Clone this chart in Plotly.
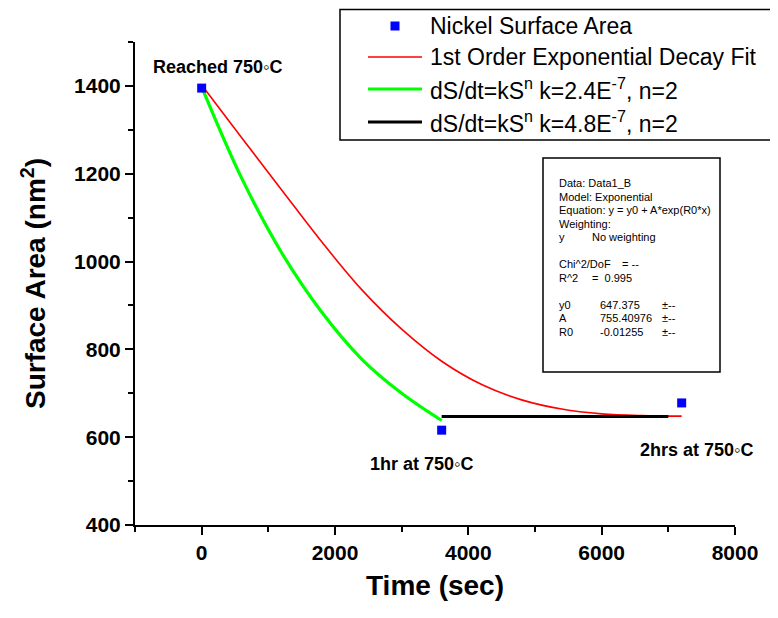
import plotly.graph_objects as go

# ---------------- data ----------------
time_pts = [0, 3600, 7200]
area_pts = [1395, 616, 678]

fit_t = [0, 600, 1200, 1800, 2400, 3000, 3600, 4200, 4800, 5400, 6000, 6600, 7200]
fit_s = [1402, 1282, 1163, 1045, 936, 846, 773, 720, 685, 664, 653, 649, 648]

k24_t = [0, 600, 1200, 1800, 2400, 3000, 3600]
k24_s = [1398, 1190, 1020, 885, 778, 700, 638]

k48_t = [3600, 7000]
k48_s = [647, 647]

legend_labels = [
    "Nickel Surface Area",
    "1st Order Exponential Decay Fit",
    "dS/dt=kS<sup>n</sup> k=2.4E<sup>-7</sup>, n=2",
    "dS/dt=kS<sup>n</sup> k=4.8E<sup>-7</sup>, n=2",
]

# (text, screen-x) pieces per row of the fit-report box
stats_rows = [
    [("Data: Data1_B", 557)],
    [("Model: Exponential", 557)],
    [("Equation: y = y0 + A*exp(R0*x)", 557)],
    [("Weighting:", 557)],
    [("y", 557), ("No weighting", 590)],
    None,
    [("Chi^2/DoF", 557), ("= --", 620)],
    [("R^2", 557), ("=  0.995", 590)],
    None,
    [("y0", 557), ("647.375", 598), ("\u00b1--", 660)],
    [("A", 557), ("755.40976", 598), ("\u00b1--", 660)],
    [("R0", 557), ("-0.01255", 598), ("\u00b1--", 660)],
]

point_labels = ["Reached 750\u25e6C", "1hr at 750\u25e6C", "2hrs at 750\u25e6C"]

# ---------------- layout geometry ----------------
OFF = 8  # page body margin
W, H = 778 - OFF, 618 - OFF
L, T = 135 - OFF, 42 - OFF
R = W - (735 - OFF)
B = H - (525 - OFF)
PW, PH = W - L - R, H - T - B


def px(sx):
    return (sx - OFF - L) / PW


def py(sy):
    return (H - B - (sy - OFF)) / PH


FONT = "Arial, Liberation Sans, sans-serif"
colors = ["#0000FF", "#FF0000", "#00FF00", "#000000"]

fig = go.Figure()
fig.add_trace(go.Scatter(x=fit_t, y=fit_s, mode="lines",
                         line=dict(color=colors[1], width=1.6, shape="spline", smoothing=1.0),
                         showlegend=False))
fig.add_trace(go.Scatter(x=k24_t, y=k24_s, mode="lines",
                         line=dict(color=colors[2], width=3.2, shape="spline", smoothing=1.0),
                         showlegend=False))
fig.add_trace(go.Scatter(x=k48_t, y=k48_s, mode="lines",
                         line=dict(color=colors[3], width=3), showlegend=False))
fig.add_trace(go.Scatter(x=time_pts, y=area_pts, mode="markers",
                         marker=dict(symbol="square", size=9, color=colors[0]),
                         showlegend=False))

shapes = []
annotations = []

# legend box (drawn manually to match the original placement)
shapes.append(dict(type="rect", xref="paper", yref="paper",
                   x0=px(340), x1=px(800), y0=py(140), y1=py(9.5),
                   line=dict(color="#000000", width=1.5), fillcolor="rgba(0,0,0,0)"))
rows_y = [26, 57, 89, 122]
for i, lab in enumerate(legend_labels):
    yy = py(rows_y[i])
    if i == 0:
        shapes.append(dict(type="rect", xref="paper", yref="paper",
                           xsizemode="pixel", ysizemode="pixel",
                           xanchor=px(395), yanchor=yy,
                           x0=-4.5, x1=4.5, y0=-4.5, y1=4.5,
                           line=dict(width=0), fillcolor=colors[0]))
    else:
        shapes.append(dict(type="line", xref="paper", yref="paper",
                           x0=px(368), x1=px(422), y0=yy, y1=yy,
                           line=dict(color=colors[i], width=1.6 if i == 1 else 3)))
    annotations.append(dict(xref="paper", yref="paper", x=px(428), y=yy,
                            xanchor="left", yanchor="middle", showarrow=False,
                            text=lab, font=dict(family=FONT, size=23, color="#000000")))

# fit-report box
shapes.append(dict(type="rect", xref="paper", yref="paper",
                   x0=px(543), x1=px(720), y0=py(372), y1=py(158),
                   line=dict(color="#000000", width=1.5), fillcolor="rgba(0,0,0,0)"))
for r, row in enumerate(stats_rows):
    if row is None:
        continue
    yy = py(183 + r * 13.5)
    for txt, sx in row:
        annotations.append(dict(xref="paper", yref="paper", x=px(sx), y=yy,
                                xanchor="left", yanchor="middle", showarrow=False,
                                text=txt, font=dict(family=FONT, size=11, color="#000000")))

# point labels
lab_pos = [(230, 1443), (3300, 539), (7415, 570)]
for txt, (lx, ly) in zip(point_labels, lab_pos):
    annotations.append(dict(x=lx, y=ly, xref="x", yref="y", showarrow=False,
                            text=txt, xanchor="center", yanchor="middle",
                            font=dict(family=FONT, size=18, color="#000000", weight="bold")))

fig.update_layout(
    width=W, height=H,
    margin=dict(l=L, r=R, t=T, b=B, autoexpand=False),
    paper_bgcolor="white", plot_bgcolor="white",
    showlegend=False,
    shapes=shapes, annotations=annotations,
    font=dict(family=FONT, color="#000000"),
)
axis_common = dict(showgrid=False, zeroline=False, showline=True, linecolor="#000000",
                   linewidth=2, ticks="outside", ticklen=8, tickwidth=2, tickcolor="#000000",
                   tickfont=dict(family=FONT, size=21, color="#000000", weight="bold"),
                   mirror=False, automargin=False)
fig.update_xaxes(range=[-1000, 8000], tick0=0, dtick=2000,
                 minor=dict(dtick=1000, ticks="outside", ticklen=5, tickwidth=2, tickcolor="#000000"),
                 title=dict(text="Time (sec)", standoff=12,
                            font=dict(family=FONT, size=28, color="#000000", weight="bold")),
                 **axis_common)
fig.update_yaxes(range=[400, 1500], tick0=0, dtick=200,
                 minor=dict(dtick=100, ticks="outside", ticklen=5, tickwidth=2, tickcolor="#000000"),
                 title=dict(text="Surface Area (nm<sup>2</sup>)", standoff=20,
                            font=dict(family=FONT, size=28, color="#000000", weight="bold")),
                 **axis_common)

fig.write_html("out.html")
